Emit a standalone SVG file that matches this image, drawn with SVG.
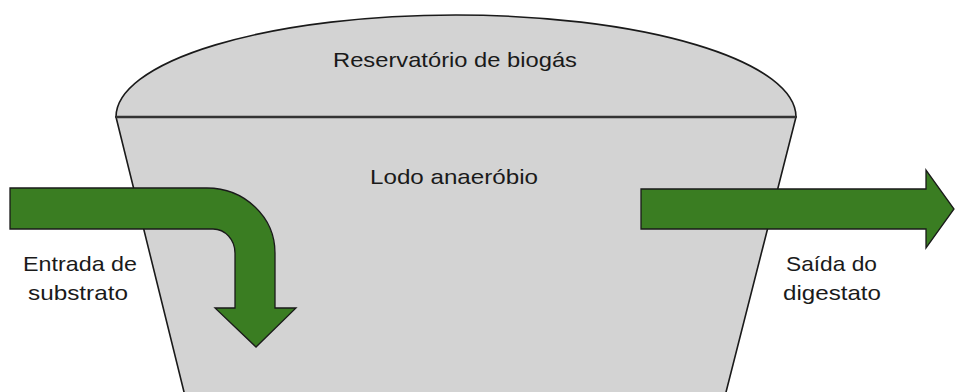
<svg xmlns="http://www.w3.org/2000/svg" width="955" height="392" viewBox="0 0 955 392">
<style>
.vessel{fill:#d3d3d3;stroke:#1a1a1a;stroke-width:1.6}
.sep{stroke:#333;stroke-width:2.4;fill:none}
.arrow{fill:#3a7d22;stroke:#1a1a1a;stroke-width:1.3;stroke-linejoin:miter}
.lbl{font-family:"Liberation Sans",Arial,sans-serif;font-size:21px;fill:#1a1a1a;text-anchor:middle}
</style>
<rect width="955" height="392" fill="#ffffff"/>
<g id="digestor">
<path class="vessel" d="M116,117 L796,117 L724,400 L186,400 Z"/>
<path class="vessel" d="M116,117 A340,102 0 0 1 796,117 Z"/>
<line class="sep" x1="116" y1="117" x2="796" y2="117"/>
<text class="lbl" x="455" y="67" textLength="244" lengthAdjust="spacingAndGlyphs">Reservatório de biogás</text>
<text class="lbl" x="454" y="184" textLength="168" lengthAdjust="spacingAndGlyphs">Lodo anaeróbio</text>
</g>
<g id="connectors">
<path id="entrada-arrow" class="arrow" d="M10,188 L207,188 A68,65 0 0 1 275,253 L275,308 L296,308 L256,347 L215,308 L235,308 L235,253 A22,24 0 0 0 213,229 L10,229 Z"/>
<path id="saida-arrow" class="arrow" d="M641,189 L926,189 L926,170 L954,209 L926,248 L926,229 L641,229 Z"/>
</g>
<g id="entrada-label">
<text class="lbl" x="80" y="271" textLength="114" lengthAdjust="spacingAndGlyphs">Entrada de</text>
<text class="lbl" x="78" y="300" textLength="100" lengthAdjust="spacingAndGlyphs">substrato</text>
</g>
<g id="saida-label">
<text class="lbl" x="831.5" y="271" textLength="91" lengthAdjust="spacingAndGlyphs">Saída do</text>
<text class="lbl" x="832" y="300" textLength="98" lengthAdjust="spacingAndGlyphs">digestato</text>
</g>
</svg>
